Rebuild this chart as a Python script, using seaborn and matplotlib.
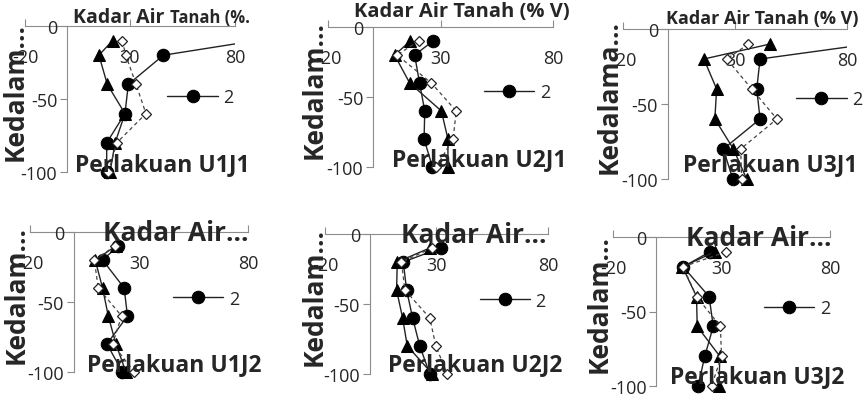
import matplotlib
matplotlib.use("Agg")
import matplotlib.pyplot as plt
import seaborn as sns

depth = [-10, -20, -40, -60, -80, -100]

# kadar air tanah (% V) per panel: circles (2), triangles, diamonds
u1j1_circle = [90, 45.9, 29.2, 27.6, 18.9, 18.9]
u1j1_tri = [21.7, 15.2, 19.2, 27.6, 22.9, 20.5]
u1j1_dia = [26.3, 28.0, 32.9, 37.6, 23.7, 19.7]

u2j1_circle = [26.7, 18.5, 20.7, 23.0, 22.7, 26.4]
u2j1_tri = [16.6, 9.6, 16.3, 30.4, 33.3, 33.3]
u2j1_dia = [20.3, 10.7, 25.9, 37.0, 35.6, 28.1]

u3j1_circle = [90, 41.2, 39.7, 41.2, 24.8, 29.0]
u3j1_tri = [45.7, 16.1, 21.8, 21.0, 29.3, 35.2]
u3j1_dia = [36.0, 26.3, 37.5, 48.7, 32.5, 33.0]

u1j2_circle = [20.5, 13.3, 23.2, 24.7, 15.3, 22.4]
u1j2_tri = [19.4, 9.9, 13.3, 15.9, 19.4, 24.0]
u1j2_dia = [19.0, 9.5, 11.3, 22.0, 17.9, 27.8]

u2j2_circle = [31.8, 15.1, 16.6, 19.3, 22.5, 27.0]
u2j2_tri = [27.0, 12.4, 12.1, 14.8, 16.9, 28.2]
u2j2_dia = [28.0, 14.3, 15.8, 27.0, 29.7, 34.8]

u3j2_circle = [24.6, 12.3, 24.3, 26.2, 22.3, 19.2]
u3j2_tri = [26.9, 12.0, 18.5, 18.8, 29.2, 28.9]
u3j2_dia = [32.0, 12.3, 18.5, 29.5, 30.0, 25.4]

panel_names = ["U1J1", "U2J1", "U3J1", "U1J2", "U2J2", "U3J2"]
circles = [u1j1_circle, u2j1_circle, u3j1_circle, u1j2_circle, u2j2_circle, u3j2_circle]
triangles = [u1j1_tri, u2j1_tri, u3j1_tri, u1j2_tri, u2j2_tri, u3j2_tri]
diamonds = [u1j1_dia, u2j1_dia, u3j1_dia, u1j2_dia, u2j2_dia, u3j2_dia]
ylabels = ["Kedalam\u2026", "Kedalam\u2026", "Kedalama\u2026",
           "Kedalam\u2026", "Kedalam\u2026", "Kedalam\u2026"]
x_ticks = [-20, 30, 80]
y_ticks = [0, -50, -100]

sns.set_style("white")
plt.rcParams["font.family"] = ["Open Sans", "DejaVu Sans"]

# axes boxes in pixels: left, right, top (y=0), bottom (y=-100)
boxes = [
    (25, 235, 27, 173),
    (328, 553, 28, 168),
    (623, 847, 30, 180),
    (30, 248, 233, 373),
    (325, 548, 235, 375),
    (613, 830, 238, 387),
]
label_pos = [(0.238, 0.068), (0.284, 0.071), (0.27, 0.113),
             (0.26, 0.07), (0.283, 0.086), (0.263, 0.08)]
legend_pos = [(0.6, 0.54), (0.62, 0.56), (0.7, 0.56),
              (0.58, 0.55), (0.62, 0.55), (0.62, 0.55)]
ylabel_x = [0.015, 0.0, 0.0, 0.0, 0.01, 0.0]
top_title_x = [None, 0.596, 0.62, 0.667, 0.668, 0.673]

W, H = 865, 402
EXTRA = 6  # room below -100 so the last markers are not cut
fig = plt.figure(figsize=(W / 100, H / 100), dpi=100)
axis_col = "#8c8c8c"

for i in range(6):
    l, r, t, b = boxes[i]
    b2 = b + (b - t) * EXTRA / 100
    ax = fig.add_axes([l / W, 1 - b2 / H, (r - l) / W, (b2 - t) / H])

    sns.lineplot(x=circles[i], y=depth, sort=False, estimator=None, color="#222222",
                 lw=1, marker="o", markersize=9, markeredgecolor="black",
                 markerfacecolor="black", label="2", ax=ax)
    sns.lineplot(x=triangles[i], y=depth, sort=False, estimator=None, color="#222222",
                 lw=1, marker="^", markersize=9, markeredgecolor="black",
                 markerfacecolor="black", ax=ax)
    sns.lineplot(x=diamonds[i], y=depth, sort=False, estimator=None, color="#444444",
                 lw=0.9, linestyle=(0, (3, 2.5)), marker="D", markersize=5.5,
                 markeredgecolor="#222222", markerfacecolor="white", markeredgewidth=0.9, ax=ax)

    ax.set_xlim(-20, 80)
    ax.set_ylim(-100 - EXTRA, 0)
    ax.set_xticks(x_ticks)
    ax.set_yticks(y_ticks)
    ax.set_xticklabels([str(v) for v in x_ticks])
    ax.set_yticklabels([str(v) for v in y_ticks])

    for s in ["top", "right"]:
        ax.spines[s].set_visible(False)
    ax.spines["bottom"].set_position(("data", 0))
    ax.spines["left"].set_position(("data", 0))
    ax.spines["left"].set_bounds(-100, 0)
    for s in ["bottom", "left"]:
        ax.spines[s].set_color(axis_col)
        ax.spines[s].set_zorder(0.5)
    ax.tick_params(axis="x", direction="in", length=5, color=axis_col,
                   labelsize=13, pad=16, bottom=True)
    ax.tick_params(axis="y", direction="out", length=5, color=axis_col,
                   labelsize=13, pad=2, left=True)
    ax.set_xlabel("")
    ax.set_ylabel(ylabels[i], fontsize=19, fontweight="bold")
    ax.yaxis.set_label_coords(ylabel_x[i], 0.58)
    ax.patch.set_alpha(0)

    ax.legend(loc="center left", bbox_to_anchor=legend_pos[i], frameon=False,
              fontsize=13, handlelength=2.8, handletextpad=0.3)

    lx, ly = label_pos[i]
    ax.text(lx, ly + 0.04, "Perlakuan " + panel_names[i], transform=ax.transAxes,
            fontsize=16.5, fontweight="bold", ha="left", va="center", zorder=5)

    if i == 0:
        ax.text(0.23, 1.06, "Kadar Air", transform=ax.transAxes, fontsize=14,
                fontweight="bold", ha="left", va="center")
        ax.text(0.69, 1.055, "Tanah (%.", transform=ax.transAxes, fontsize=12,
                fontweight="bold", ha="left", va="center")
    elif i in (1, 2):
        ax.text(top_title_x[i], 1.11 if i == 1 else 1.07, "Kadar Air Tanah (% V)",
                transform=ax.transAxes, fontsize=14.5 if i == 1 else 13,
                fontweight="bold", ha="center", va="center")
    else:
        ax.text(top_title_x[i], 0.995, "Kadar Air\u2026", transform=ax.transAxes, fontsize=19,
                fontweight="bold", ha="center", va="center", zorder=5)

fig.savefig("out.png", dpi=100)
